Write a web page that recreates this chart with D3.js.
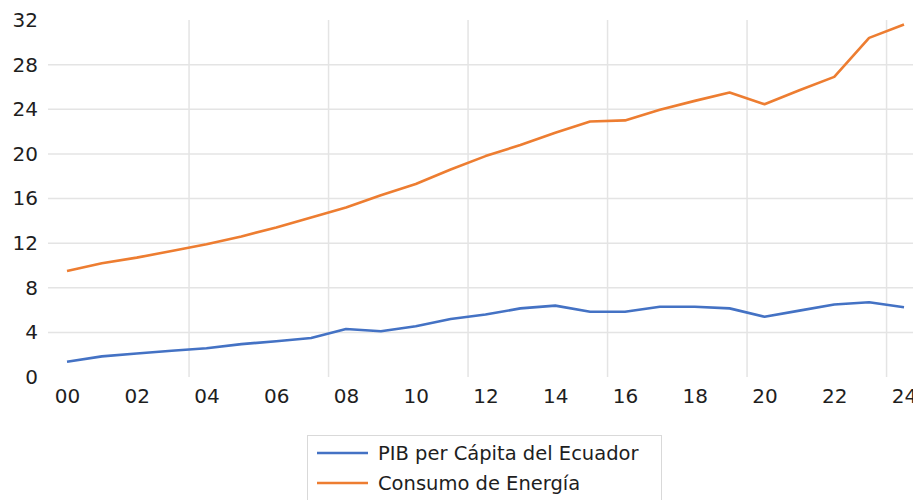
<!DOCTYPE html>
<html>
<head>
<meta charset="utf-8">
<script src="https://cdn.jsdelivr.net/npm/d3@7"></script>
<style>
  body { margin: 0; background: #fff; }
  svg { font-family: 'DejaVu Sans', sans-serif; }
</style>
</head>
<body>
<svg id="chart" width="913" height="500"></svg>
<script>
// años 2000-2024
const years = d3.range(2000, 2025);
const pib = [1.37, 1.85, 2.1, 2.35, 2.57, 2.95, 3.2, 3.5, 4.3, 4.1, 4.55, 5.2, 5.6, 6.15, 6.4,
  5.85, 5.85, 6.3, 6.3, 6.15, 5.4, 5.95, 6.5, 6.7, 6.25];
const energia = [9.5, 10.2, 10.7, 11.3, 11.9, 12.6, 13.4, 14.3, 15.2, 16.3, 17.3, 18.6, 19.8, 20.8, 21.9,
  22.9, 23.0, 23.95, 24.75, 25.5, 24.45, 25.7, 26.9, 30.4, 31.6];
const yTicks = [0, 4, 8, 12, 16, 20, 24, 28, 32];
const seriesNames = ['PIB per Cápita del Ecuador', 'Consumo de Energía'];

const svg = d3.select('#chart');
const colors = ['#4472C4', '#ED7D31'];

const x = d3.scaleLinear().domain([2000, 2024]).range([67, 904]);
const y = d3.scaleLinear().domain([0, 32]).range([377, 20]);

// grid horizontal
svg.append('g')
  .selectAll('line')
  .data(yTicks.filter(d => d > 0 && d < 32))
  .enter().append('line')
  .attr('x1', 48).attr('x2', 913)
  .attr('y1', d => y(d)).attr('y2', d => y(d))
  .attr('stroke', '#e4e4e4').attr('stroke-width', 1.5);

// grid vertical (entre categorias, cada 4)
svg.append('g')
  .selectAll('line')
  .data([2003.5, 2007.5, 2011.5, 2015.5, 2019.5, 2023.5])
  .enter().append('line')
  .attr('x1', d => x(d)).attr('x2', d => x(d))
  .attr('y1', y(32)).attr('y2', y(0))
  .attr('stroke', '#e4e4e4').attr('stroke-width', 1.5);

// eje y
svg.append('g')
  .attr('transform', 'translate(38,0)')
  .call(d3.axisLeft(y).tickValues(yTicks).tickSize(0).tickPadding(0))
  .call(g => g.select('.domain').remove())
  .call(g => g.selectAll('text')
    .attr('font-size', 20).attr('fill', '#1e1e1e').attr('font-family', "'DejaVu Sans', sans-serif"));

// eje x
svg.append('g')
  .attr('transform', `translate(0,${y(0) + 12})`)
  .call(d3.axisBottom(x).tickValues(years.filter(d => d % 2 === 0))
    .tickFormat(d => String(d).slice(2)).tickSize(0).tickPadding(0))
  .call(g => g.select('.domain').remove())
  .call(g => g.selectAll('text')
    .attr('font-size', 20).attr('fill', '#1e1e1e').attr('font-family', "'DejaVu Sans', sans-serif"));

const line = d3.line().x((d, i) => x(years[i])).y(d => y(d));

[pib, energia].forEach((s, i) => {
  svg.append('path')
    .datum(s)
    .attr('fill', 'none')
    .attr('stroke', colors[i])
    .attr('stroke-width', 2.6)
    .attr('stroke-linejoin', 'round')
    .attr('d', line);
});

// leyenda
const legend = svg.append('g');
legend.append('rect')
  .attr('x', 307.5).attr('y', 435.5)
  .attr('width', 354).attr('height', 80)
  .attr('fill', '#fff').attr('stroke', '#d9d9d9');

seriesNames.forEach((name, i) => {
  const ly = 453 + i * 30;
  legend.append('line')
    .attr('x1', 317).attr('x2', 368)
    .attr('y1', ly).attr('y2', ly)
    .attr('stroke', colors[i]).attr('stroke-width', 2.6);
  legend.append('text')
    .attr('x', 378).attr('y', ly)
    .attr('dy', '0.35em')
    .attr('font-size', 19.5)
    .attr('fill', '#1e1e1e')
    .text(name);
});
</script>
</body>
</html>
